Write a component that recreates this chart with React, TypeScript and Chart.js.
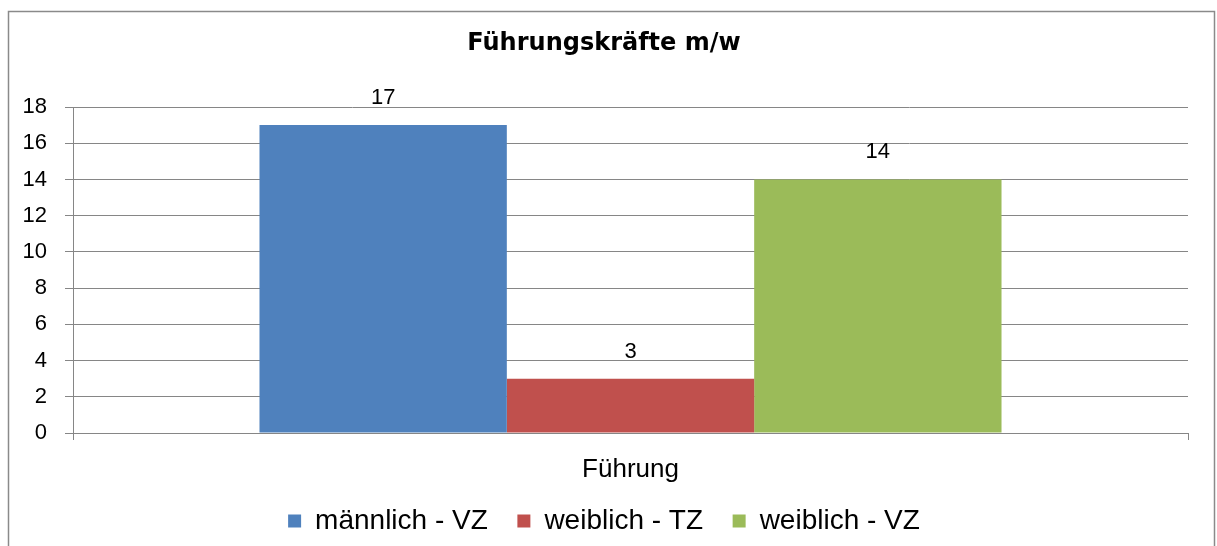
import React, { useEffect, useRef } from "react";
import { Chart, registerables } from "chart.js";

Chart.register(...registerables);

const categories = ["Führung"];
const seriesNames = ["männlich - VZ", "weiblich - TZ", "weiblich - VZ"];
const maleFullTime = [17];
const femalePartTime = [3];
const femaleFullTime = [14];
const seriesColors = ["#4F81BD", "#C0504D", "#9BBB59"];
const chartTitle = "Führungskräfte m/w";
const yMin = 0;
const yMax = 18;
const yStep = 2;

const FONT = "'Liberation Sans', Arial, sans-serif";
const AXIS_COLOR = "#868686";

const framePlugin = {
  id: "frame",
  beforeDraw(chart: any) {
    const ctx = chart.ctx;
    ctx.save();
    ctx.fillStyle = "#ffffff";
    ctx.fillRect(0, 0, chart.width, chart.height);
    ctx.strokeStyle = "#8a8a8a";
    ctx.lineWidth = 1.5;
    ctx.strokeRect(8.5, 11.5, 1206, 700);
    ctx.restore();
  },
};

const valueLabelPlugin = {
  id: "valueLabels",
  afterDatasetsDraw(chart: any) {
    const ctx = chart.ctx;
    ctx.save();
    ctx.font = `22px ${FONT}`;
    ctx.fillStyle = "#000";
    ctx.textAlign = "center";
    ctx.textBaseline = "alphabetic";
    chart.data.datasets.forEach((ds: any, i: number) => {
      const meta = chart.getDatasetMeta(i);
      meta.data.forEach((bar: any, j: number) => {
        ctx.fillText(String(ds.data[j]), bar.x, bar.y - 21);
      });
    });
    ctx.restore();
  },
};

export default function App() {
  const ref = useRef<HTMLCanvasElement | null>(null);

  useEffect(() => {
    if (!ref.current) return;
    const seriesValues = [maleFullTime, femalePartTime, femaleFullTime];
    const chart = new Chart(ref.current, {
      type: "bar",
      data: {
        labels: categories,
        datasets: seriesNames.map((name, i) => ({
          label: name,
          data: seriesValues[i],
          backgroundColor: seriesColors[i],
          borderWidth: 0,
          categoryPercentage: 0.6655,
          barPercentage: 1,
        })),
      },
      options: {
        responsive: false,
        animation: false,
        layout: { padding: { left: 20, right: 29, top: 0, bottom: 1 } },
        plugins: {
          title: {
            display: true,
            text: chartTitle,
            color: "#000",
            font: { family: "'DejaVu Sans', sans-serif", weight: "bold", size: 24 },
            padding: { top: 29.6, bottom: 48.6 },
          },
          legend: {
            display: true,
            position: "bottom",
            labels: {
              color: "#000",
              font: { family: FONT, size: 28 },
              boxWidth: 13,
              boxHeight: 13,
              padding: 14,
              generateLabels: (chart: any) => {
                const items = (Chart.defaults.plugins.legend.labels as any).generateLabels(chart);
                return items.map((it: any, i: number) =>
                  i < items.length - 1 ? { ...it, text: it.text + "  " } : it
                );
              },
            },
          },
          tooltip: { enabled: false },
        },
        scales: {
          x: {
            grid: {
              display: true,
              drawOnChartArea: false,
              drawTicks: true,
              tickLength: 7,
              color: AXIS_COLOR,
            },
            border: { display: true, color: AXIS_COLOR },
            ticks: { color: "#000", font: { family: FONT, size: 26 }, padding: 14 },
            afterFit: (s: any) => {
              s.height = 60;
            },
          },
          y: {
            min: yMin,
            max: yMax,
            ticks: {
              stepSize: yStep,
              color: "#000",
              font: { family: FONT, size: 22 },
              padding: 18,
            },
            grid: { color: AXIS_COLOR, tickLength: 8, drawTicks: true },
            border: { display: true, color: AXIS_COLOR },
            afterFit: (s: any) => {
              s.width = 53;
            },
          },
        },
      },
      plugins: [framePlugin, valueLabelPlugin],
    } as any);
    return () => chart.destroy();
  }, []);

  return (
    <div
      style={{
        position: "fixed",
        left: 0,
        top: 0,
        width: 1217,
        height: 546,
        background: "#fff",
        overflow: "hidden",
      }}
    >
      <canvas ref={ref} width={1217} height={546} style={{ display: "block" }} />
    </div>
  );
}
